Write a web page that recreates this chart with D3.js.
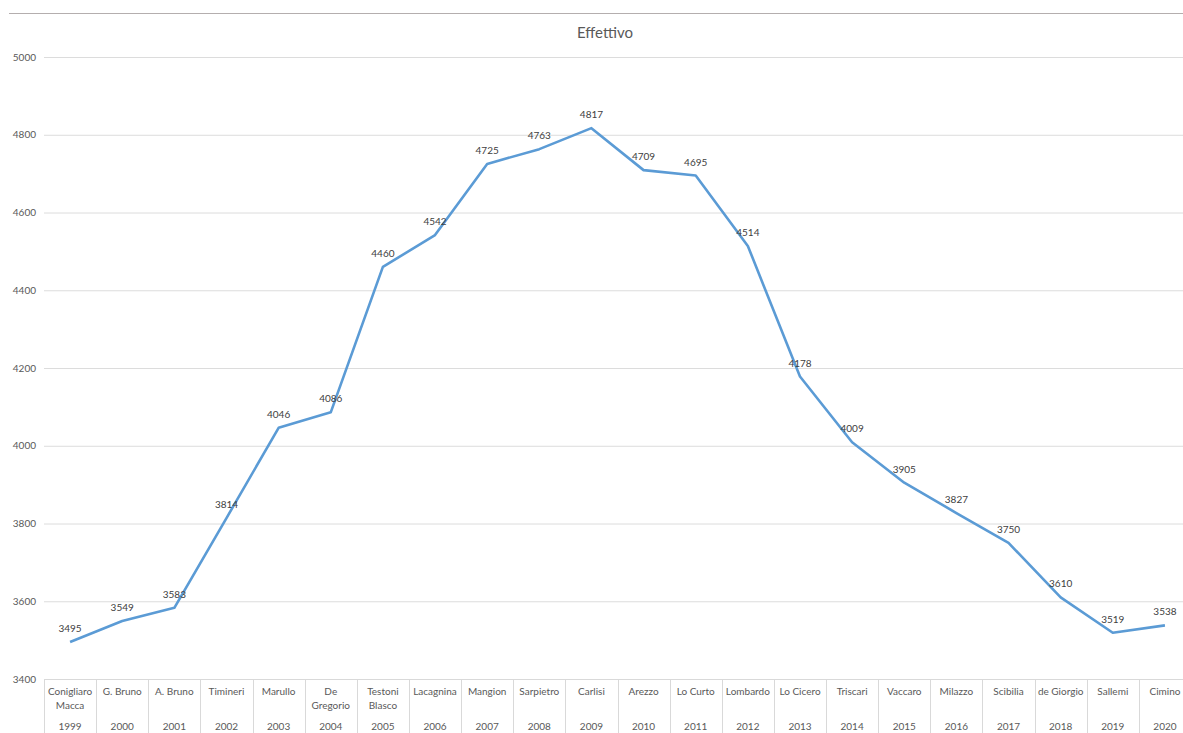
<!DOCTYPE html>
<html>
<head>
<meta charset="utf-8">
<script src="https://cdn.jsdelivr.net/npm/d3@7"></script>
<style>
  body { margin: 0; background: #fff; }
  svg { display: block; font-family: Lato, "Open Sans", sans-serif; }
</style>
</head>
<body>
<svg id="chart"></svg>
<script>
// data
var names = ["Conigliaro\nMacca", "G. Bruno", "A. Bruno", "Timineri", "Marullo", "De\nGregorio",
  "Testoni\nBlasco", "Lacagnina", "Mangion", "Sarpietro", "Carlisi", "Arezzo", "Lo Curto",
  "Lombardo", "Lo Cicero", "Triscari", "Vaccaro", "Milazzo", "Scibilia", "de Giorgio",
  "Sallemi", "Cimino"];
var years = ["1999", "2000", "2001", "2002", "2003", "2004", "2005", "2006", "2007", "2008", "2009",
  "2010", "2011", "2012", "2013", "2014", "2015", "2016", "2017", "2018", "2019", "2020"];
var effettivo = [3495, 3549, 3583, 3814, 4046, 4086, 4460, 4542, 4725, 4763, 4817,
  4709, 4695, 4514, 4178, 4009, 3905, 3827, 3750, 3610, 3519, 3538];
var yTicks = [3400, 3600, 3800, 4000, 4200, 4400, 4600, 4800, 5000];

var screen = {width: 1183, height: 733};
var margins = {top: 57, left: 44, bottom: 54};
var plotRight = 1191;  // last column runs a bit past the window edge

var svg = d3.select("#chart")
  .attr("width", screen.width)
  .attr("height", screen.height);

var xScale = d3.scaleBand()
  .domain(years)
  .range([margins.left, plotRight])
  .padding(0);

var yScale = d3.scaleLinear()
  .domain([3400, 5000])
  .range([screen.height - margins.bottom, margins.top]);

// top frame line
svg.append("line")
  .attr("x1", 9).attr("x2", screen.width)
  .attr("y1", 13.5).attr("y2", 13.5)
  .style("stroke", "#b4aeae").style("stroke-width", 1);

// title
svg.append("text")
  .attr("x", 605).attr("y", 38)
  .attr("text-anchor", "middle")
  .style("font-size", "15px")
  .style("fill", "#595959")
  .text("Effettivo");

// gridlines + y labels
var yAxis = d3.axisLeft(yScale)
  .tickValues(yTicks)
  .tickFormat(d3.format("d"))
  .tickSize(-(plotRight - margins.left))
  .tickPadding(8);

var yG = svg.append("g")
  .attr("transform", "translate(" + margins.left + ",0)")
  .call(yAxis);
yG.select(".domain").remove();
yG.selectAll(".tick line")
  .style("stroke", "#dcdcdc");
yG.selectAll(".tick text")
  .style("font-size", "10px")
  .style("fill", "#595959")
  .style("font-family", "Lato, sans-serif");

// category axis: separators
var axisTop = yScale(3400);
var sepPositions = years.map(function(y){ return xScale(y); });
svg.append("g").selectAll("line")
  .data(sepPositions)
  .enter()
  .append("line")
  .attr("x1", function(d){ return Math.round(d) + 0.5; })
  .attr("x2", function(d){ return Math.round(d) + 0.5; })
  .attr("y1", axisTop)
  .attr("y2", screen.height)
  .style("stroke", "#d9d9d9");

svg.append("line")
  .attr("x1", margins.left).attr("x2", plotRight)
  .attr("y1", axisTop + 0.5).attr("y2", axisTop + 0.5)
  .style("stroke", "#d9d9d9");

var cats = svg.append("g").selectAll("g")
  .data(years)
  .enter()
  .append("g")
  .attr("transform", function(d){ return "translate(" + (xScale(d) + xScale.bandwidth() / 2) + ",0)"; });

cats.append("text")
  .attr("text-anchor", "middle")
  .style("font-size", "10px")
  .style("fill", "#595959")
  .each(function(d, i){
    var lines = names[i].split("\n");
    var t = d3.select(this);
    lines.forEach(function(l, j){
      t.append("tspan").attr("x", 0).attr("y", axisTop + 16 + j * 14).text(l);
    });
  });

cats.append("text")
  .attr("text-anchor", "middle")
  .attr("y", axisTop + 51)
  .style("font-size", "10px")
  .style("fill", "#595959")
  .text(function(d){ return d; });

// the line
var line = d3.line()
  .x(function(d, i){ return xScale(years[i]) + xScale.bandwidth() / 2; })
  .y(function(d){ return yScale(d); });

svg.append("path")
  .datum(effettivo)
  .attr("d", line)
  .style("fill", "none")
  .style("stroke", "#5b9bd5")
  .style("stroke-width", 2.6)
  .style("stroke-linejoin", "round");

// data labels
svg.append("g").selectAll("text")
  .data(effettivo)
  .enter()
  .append("text")
  .attr("x", function(d, i){ return xScale(years[i]) + xScale.bandwidth() / 2; })
  .attr("y", function(d){ return yScale(d) - 10; })
  .attr("text-anchor", "middle")
  .style("font-size", "10px")
  .style("fill", "#404040")
  .text(function(d){ return d; });
</script>
</body>
</html>
